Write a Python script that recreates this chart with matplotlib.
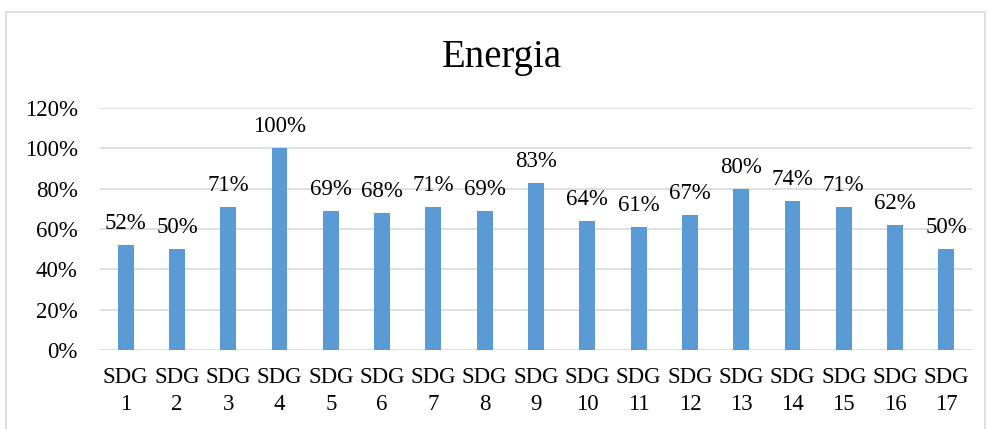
import matplotlib.pyplot as plt
from matplotlib.patches import Rectangle
from matplotlib.ticker import FuncFormatter

plt.rcParams['font.family'] = ['Liberation Serif', 'DejaVu Serif']

categories = ["SDG\n%d" % i for i in range(1, 18)]
values = [52, 50, 71, 100, 69, 68, 71, 69, 83, 64, 61, 67, 80, 74, 71, 62, 50]
labels = ["%d%%" % v for v in values]

fig = plt.figure(figsize=(9.91, 4.29), dpi=100)
ax = fig.add_axes([100 / 991, (429 - 350) / 429, 872 / 991, 242 / 429])

x = range(len(values))
bars = ax.bar(x, values, width=0.31, color='#5B9BD5', zorder=3)
for xi, v, lab in zip(x, values, labels):
    ax.text(xi, v + 5.5, lab, ha='center', va='bottom', fontsize=16.5)

ax.set_ylim(0, 120)
ax.set_xlim(-0.5, len(values) - 0.5)
ax.set_yticks(range(0, 121, 20))
ax.yaxis.set_major_formatter(FuncFormatter(lambda v, p: "%d%%" % v))
ax.set_xticks(list(x))
ax.set_xticklabels(categories, fontsize=16.5, linespacing=1.4)
ax.tick_params(axis='y', labelsize=16.5, length=0, pad=16)
ax.tick_params(axis='x', length=0, pad=12)
ax.grid(axis='y', color='#D9D9D9', linewidth=1.2, zorder=0)
for s in ax.spines.values():
    s.set_visible(False)

fig.text(502 / 991, 1 - 58 / 429, "Energia", ha='center', va='center', fontsize=28)

# chart frame
fig.patches.append(Rectangle((6 / 991, -0.05), 979 / 991, 1 - 12 / 429 + 0.05,
                             transform=fig.transFigure, fill=False,
                             edgecolor='#D9D9D9', linewidth=1.2))

fig.savefig("out.png", dpi=100)
